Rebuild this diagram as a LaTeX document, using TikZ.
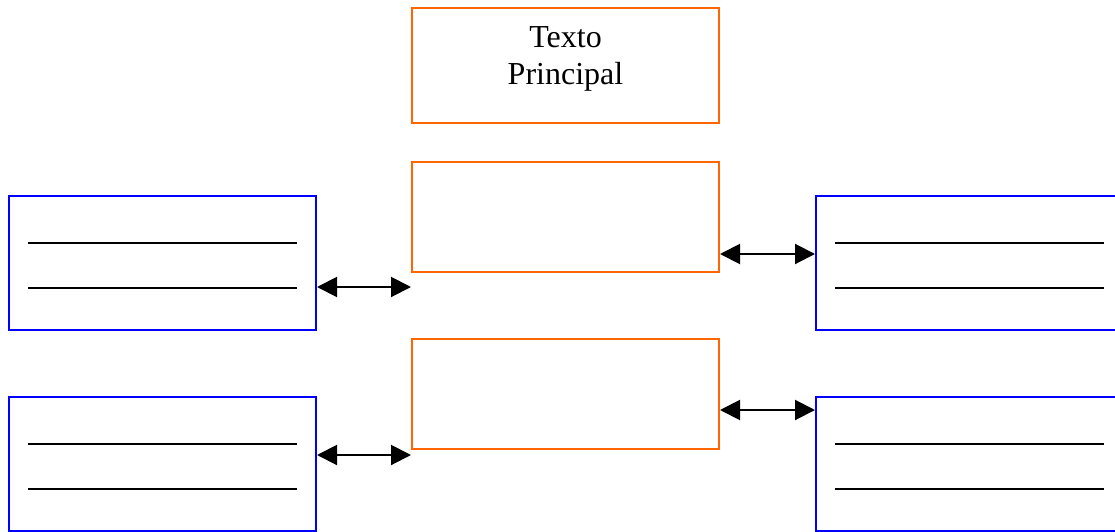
\documentclass[tikz,border=0pt]{standalone}
\usepackage{fontspec}
\setmainfont{Liberation Serif}
\usetikzlibrary{arrows.meta,calc}
\definecolor{boxorange}{RGB}{255,102,0}
\definecolor{boxblue}{RGB}{0,0,255}
\begin{document}
\begin{tikzpicture}[x=1pt,y=-1pt,
  mainbox/.style={draw=boxorange,line width=2pt,minimum width=307pt,minimum height=110pt,inner sep=0pt},
  notebox/.style={draw=boxblue,line width=2pt,minimum width=307pt,minimum height=134pt,inner sep=0pt},
  writeline/.style={draw=black,line width=2pt},
  link/.style={draw=black,line width=2pt,{Triangle[length=20pt,width=20pt]}-{Triangle[length=20pt,width=20pt]}},
  titletext/.style={font=\fontsize{32}{37}\selectfont,inner sep=0pt}]
\useasboundingbox (0,0) rectangle (1115,532);

% title box and its text
\node[mainbox,minimum height=115pt] (top) at (565.5,65.5) {};
\node[titletext,anchor=base] (t1) at (565.5,47.7) {Texto};
\node[titletext,anchor=base] (t2) at (565.5,85) {Principal};

% central boxes
\node[mainbox] (m1) at (565.5,217) {};
\node[mainbox] (m2) at (565.5,394) {};

% side boxes
\node[notebox] (l1) at (162.5,263) {};
\node[notebox] (l2) at (162.5,464) {};
\node[notebox] (r1) at (969.5,263) {};
\node[notebox] (r2) at (969.5,464) {};

% writing lines inside the side boxes
\foreach \b in {l1,l2,r1,r2}{
  \draw[writeline] ($(\b.north west)+(20,47.5)$) -- ($(\b.north east)+(-20,47.5)$);
  \draw[writeline] ($(\b.north west)+(20,93)$) -- ($(\b.north east)+(-20,93)$);
}

% connectors
\coordinate (la1) at (l1.east |- 0,287);
\coordinate (ma1) at (m1.west |- 0,287);
\coordinate (la2) at (l2.east |- 0,455);
\coordinate (ma2) at (m2.west |- 0,455);
\coordinate (mb1) at (m1.east |- 0,254);
\coordinate (rb1) at (r1.west |- 0,254);
\coordinate (mb2) at (m2.east |- 0,410);
\coordinate (rb2) at (r2.west |- 0,410);
\draw[link] (la1) -- (ma1);
\draw[link] (la2) -- (ma2);
\draw[link] (mb1) -- (rb1);
\draw[link] (mb2) -- (rb2);
\end{tikzpicture}
\end{document}
